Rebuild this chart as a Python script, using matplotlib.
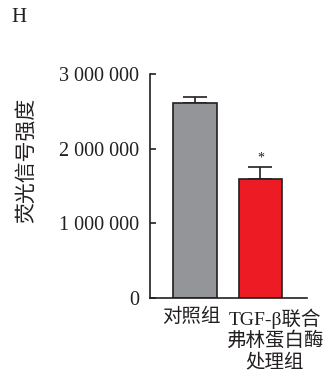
import matplotlib.pyplot as plt
from matplotlib.transforms import blended_transform_factory

plt.rcParams['font.family'] = ['Liberation Serif', 'Noto Sans CJK SC']
plt.rcParams['axes.unicode_minus'] = False

groups = ['对照组', 'TGF-β联合\n弗林蛋白酶\n处理组']
label_x = [-0.06, 1.22]
means = [2610000, 1600000]
errs = [85000, 150000]
colors = ['#939598', '#ed1c24']
yticks = [0, 1000000, 2000000, 3000000]
ytick_labels = ['0', '1 000 000', '2 000 000', '3 000 000']

fig = plt.figure(figsize=(3.24, 3.72), dpi=100)
ax = fig.add_axes([150 / 324, 74 / 372, 157 / 324, 224 / 372])

x = [0, 1]
ax.bar(x, means, width=0.67, color=colors, edgecolor='#231f20', linewidth=1.2, zorder=2)
ax.errorbar(x, means, yerr=[[0, 0], errs], fmt='none', ecolor='#231f20',
            elinewidth=1.2, capsize=8.5, capthick=1.2, zorder=1)

# significance mark over the treated group
ax.text(1, means[1] + errs[1] + 40000, '*', ha='center', va='bottom', fontsize=10, color='#231f20')

ax.set_xlim(-0.687, 1.71)
ax.set_ylim(0, 3000000)
ax.set_yticks(yticks)
ax.set_yticklabels(ytick_labels)
ax.set_xticks([])

# group names under the bars
trans = blended_transform_factory(ax.transData, ax.transAxes)
for xi, name in zip(label_x, groups):
    ax.text(xi, -0.045, name, transform=trans, ha='center', va='top', fontsize=14,
            linespacing=1.22, color='#231f20', clip_on=False)

for side in ['top', 'right']:
    ax.spines[side].set_visible(False)
for side in ['left', 'bottom']:
    ax.spines[side].set_linewidth(1.2)
    ax.spines[side].set_color('#231f20')

ax.tick_params(axis='y', direction='in', length=4, width=1.2, pad=8, labelsize=14.5, colors='#231f20')

fig.text(27 / 324, 1 - 160 / 372, '荧光信号强度', rotation=90, ha='center', va='center',
         fontsize=15, color='#231f20')
fig.text(11 / 324, 1 - 18 / 372, 'H', ha='left', va='center', fontsize=15, color='#231f20')

fig.savefig('out.png', dpi=100)
